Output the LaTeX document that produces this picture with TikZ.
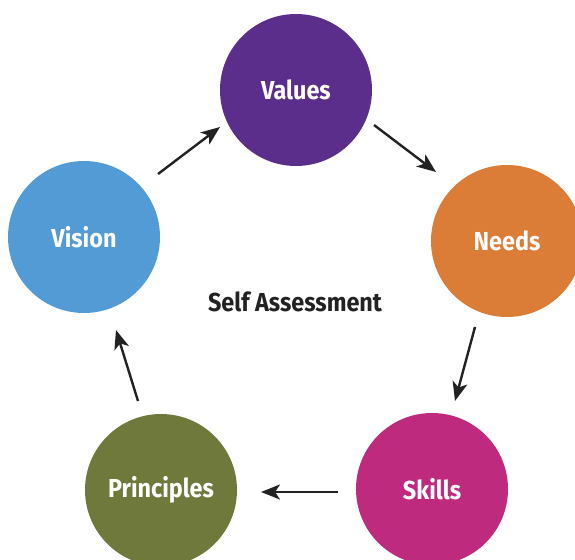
\documentclass[tikz,border=0pt]{standalone}
\usepackage{fontspec}
\setmainfont{Fira Sans}[FakeStretch=0.9]
\usetikzlibrary{arrows.meta}
\definecolor{cvalues}{HTML}{5C2E8C}
\definecolor{cneeds}{HTML}{DC7D37}
\definecolor{cskills}{HTML}{BE2A7E}
\definecolor{cprinc}{HTML}{6F793B}
\definecolor{cvision}{HTML}{529BD5}
\definecolor{carrow}{HTML}{222222}
\begin{document}
\begin{tikzpicture}[x=1pt,y=-1pt,
  bubble/.style={circle,minimum size=152pt,inner sep=0pt,text=white,font=\fontsize{26}{28}\selectfont\bfseries},
  flow/.style={draw=carrow,line width=2.4pt,-{Stealth[length=19pt,width=15pt,inset=5pt]}}]
\useasboundingbox (0,0) rectangle (575,559);
\begin{scope}
\clip (0,0) rectangle (575,559);
\node[bubble,fill=cvalues] (values) at (296,90) {Values};
\node[bubble,fill=cneeds] (needs) at (507,241) {Needs};
\node[bubble,fill=cskills] (skills) at (432,489) {Skills};
\node[bubble,fill=cprinc] (princ) at (161,490) {Principles};
\node[bubble,fill=cvision] (vision) at (84,237) {Vision};
\end{scope}
\node[font=\fontsize{26}{28}\selectfont\bfseries,text=carrow] (title) at (295,302) {Self Assessment};
\coordinate (a1s) at (158,174); \coordinate (a1e) at (220,127);
\coordinate (a2s) at (374,125); \coordinate (a2e) at (436,172);
\coordinate (a3s) at (475,327); \coordinate (a3e) at (455,401);
\coordinate (a4s) at (338,492); \coordinate (a4e) at (261,492);
\coordinate (a5s) at (138,401); \coordinate (a5e) at (116,330);
\draw[flow] (a1s) -- (a1e);
\draw[flow] (a2s) -- (a2e);
\draw[flow] (a3s) -- (a3e);
\draw[flow] (a4s) -- (a4e);
\draw[flow] (a5s) -- (a5e);
\end{tikzpicture}
\end{document}
